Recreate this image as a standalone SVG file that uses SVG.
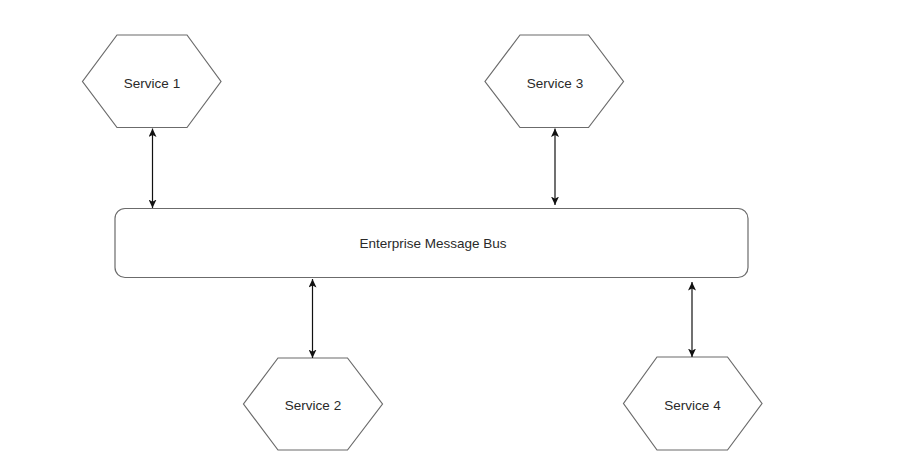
<svg xmlns="http://www.w3.org/2000/svg" width="908" height="468" viewBox="0 0 908 468">
<style>
.shape{fill:#fff;stroke:#6b6b6b;stroke-width:1.2}
.lbl{font-family:"Liberation Sans",Arial,sans-serif;font-size:13.5px;fill:#2a2a2a;text-anchor:middle}
.conn{stroke:#111;stroke-width:1.2;fill:none;marker-start:url(#ah);marker-end:url(#ah)}
</style>
<defs>
<marker id="ah" viewBox="0 0 10 10" refX="10" refY="5" markerWidth="8.5" markerHeight="8" markerUnits="userSpaceOnUse" orient="auto-start-reverse" preserveAspectRatio="none">
<path d="M0,0 L10,5 L0,10 L2.5,5 Z" fill="#111"/>
</marker>
</defs>
<rect width="908" height="468" fill="#fff"/>
<g id="bus">
<rect class="shape" x="115" y="208.5" width="633" height="69" rx="10" ry="10"/>
<text class="lbl" x="433" y="248">Enterprise Message Bus</text>
</g>
<g id="service1">
<polygon class="shape" points="117,35 187,35 221,81.5 187,127.5 117,127.5 82.5,81.5"/>
<text class="lbl" x="152" y="87.5">Service 1</text>
</g>
<g id="service3">
<polygon class="shape" points="520,35 588.5,35 623.5,81.5 588.5,127.5 520,127.5 485,81.5"/>
<text class="lbl" x="555" y="87.5">Service 3</text>
</g>
<g id="service2">
<polygon class="shape" points="278,358 347.5,358 382.5,404 347.5,450 278,450 243.5,404"/>
<text class="lbl" x="313" y="410">Service 2</text>
</g>
<g id="service4">
<polygon class="shape" points="657,357 727.5,357 762,403.5 727.5,450 657,450 623.5,403.5"/>
<text class="lbl" x="692.5" y="409.5">Service 4</text>
</g>
<g id="connectors">
<line class="conn" x1="152.5" y1="128.5" x2="152.5" y2="208"/>
<line class="conn" x1="555" y1="128.5" x2="555" y2="205"/>
<line class="conn" x1="312.5" y1="279" x2="312.5" y2="358"/>
<line class="conn" x1="692" y1="282" x2="692" y2="357"/>
</g>
</svg>
